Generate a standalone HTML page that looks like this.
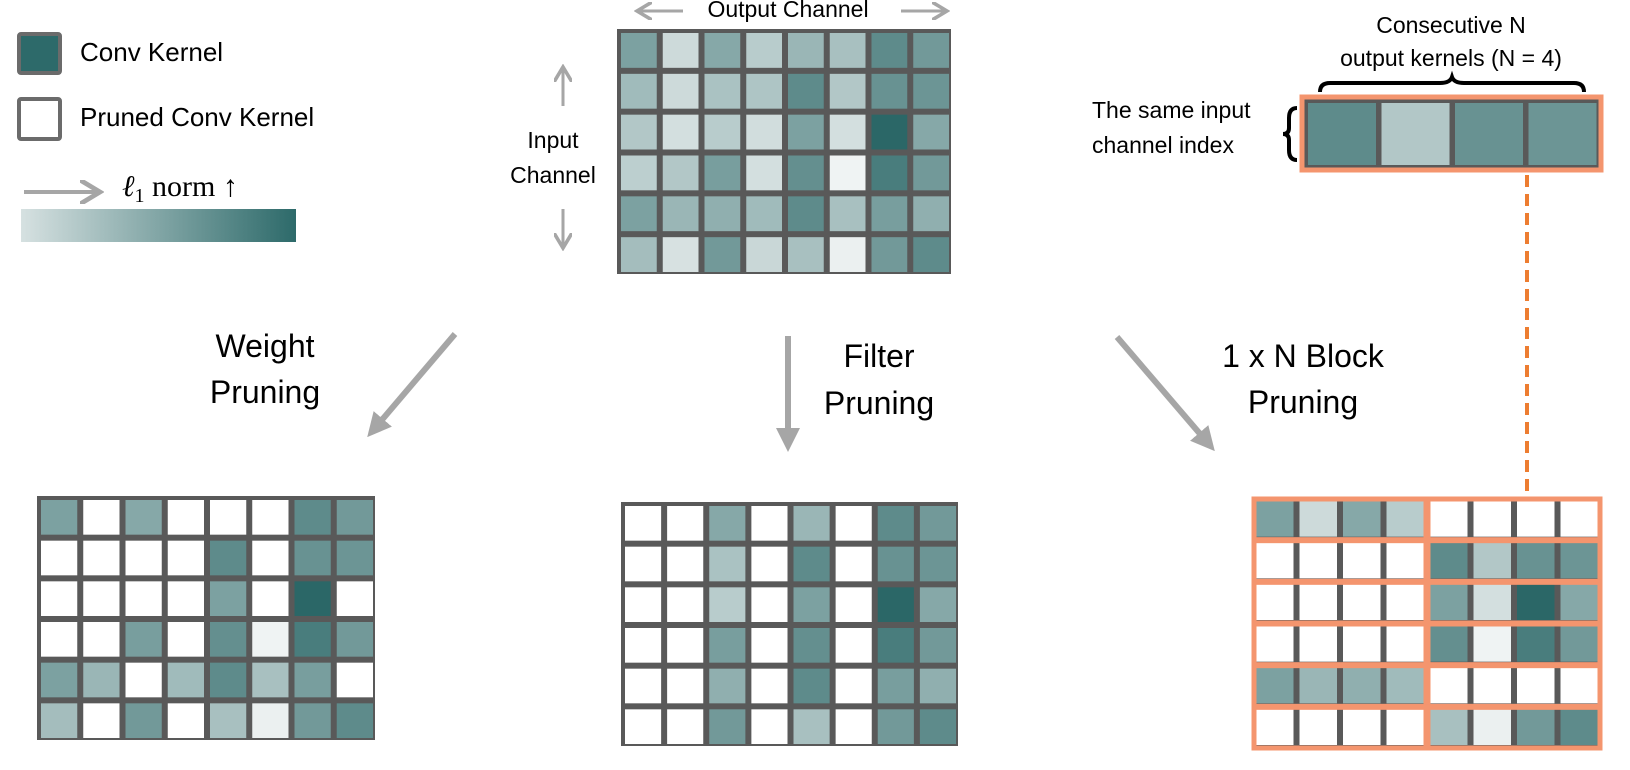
<!DOCTYPE html>
<html><head><meta charset="utf-8"><style>
html,body{margin:0;padding:0;background:#fff;}
svg{display:block;}
text{font-family:"Liberation Sans",sans-serif;fill:#000;}
</style></head><body>
<svg id="fig" width="1630" height="770" viewBox="0 0 1630 770" xmlns="http://www.w3.org/2000/svg">
<defs>
<linearGradient id="l1grad" x1="0" x2="1" y1="0" y2="0"><stop offset="0" stop-color="#d6e1e1"/><stop offset="1" stop-color="#2d6a6a"/></linearGradient>
<marker id="ah" markerWidth="4" markerHeight="4" refX="2" refY="2" orient="auto" markerUnits="strokeWidth"><path d="M0,0 L4,2 L0,4 Z" fill="#a6a6a6"/></marker>
<marker id="ahs" markerWidth="6" markerHeight="6" refX="4" refY="3" orient="auto" markerUnits="strokeWidth"><path d="M0,0 L5,3 L0,6" fill="none" stroke="#a6a6a6" stroke-width="1.2"/></marker>
</defs>

<!-- legend -->
<g>
<rect x="19" y="34" width="41" height="39" fill="#2d6a6a" stroke="#6b6b6b" stroke-width="4" rx="2"/>
<text x="80" y="61" font-size="26">Conv Kernel</text>
<rect x="19" y="99" width="41" height="40" fill="#fff" stroke="#6b6b6b" stroke-width="4" rx="2"/>
<text x="80" y="126" font-size="26">Pruned Conv Kernel</text>
<line x1="24" y1="192" x2="96" y2="192" stroke="#a6a6a6" stroke-width="4" marker-end="url(#ahs)"/>
<text x="122" y="196" font-size="30" style="font-family:'Liberation Serif',serif"><tspan font-style="italic">ℓ</tspan><tspan font-size="20" dy="6">1</tspan><tspan dy="-6"> norm ↑</tspan></text>
<rect x="21" y="209" width="275" height="33" fill="url(#l1grad)"/>
</g>

<!-- top labels -->
<text x="788" y="17" font-size="23" text-anchor="middle">Output Channel</text>
<line x1="683" y1="11" x2="640" y2="11" stroke="#a6a6a6" stroke-width="3" marker-end="url(#ahs)"/>
<line x1="901" y1="11" x2="944" y2="11" stroke="#a6a6a6" stroke-width="3" marker-end="url(#ahs)"/>
<text x="553" y="148" font-size="23" text-anchor="middle">Input</text>
<text x="553" y="183" font-size="23" text-anchor="middle">Channel</text>
<line x1="563" y1="106" x2="563" y2="70" stroke="#a6a6a6" stroke-width="3" marker-end="url(#ahs)"/>
<line x1="563" y1="209" x2="563" y2="245" stroke="#a6a6a6" stroke-width="3" marker-end="url(#ahs)"/>

<!-- method labels and arrows -->
<text x="265" y="357" font-size="32" text-anchor="middle">Weight</text>
<text x="265" y="403" font-size="32" text-anchor="middle">Pruning</text>
<line x1="455" y1="334" x2="375" y2="428" stroke="#a6a6a6" stroke-width="6" marker-end="url(#ah)"/>
<text x="879" y="367" font-size="32" text-anchor="middle">Filter</text>
<text x="879" y="414" font-size="32" text-anchor="middle">Pruning</text>
<line x1="788" y1="336" x2="788" y2="440" stroke="#a6a6a6" stroke-width="6" marker-end="url(#ah)"/>
<text x="1303" y="367" font-size="32" text-anchor="middle">1 x N Block</text>
<text x="1303" y="413" font-size="32" text-anchor="middle">Pruning</text>
<line x1="1117" y1="337" x2="1207" y2="442" stroke="#a6a6a6" stroke-width="6" marker-end="url(#ah)"/>

<!-- top right annotation -->
<text x="1451" y="33" font-size="23" text-anchor="middle">Consecutive N</text>
<text x="1451" y="66" font-size="23" text-anchor="middle">output kernels (N = 4)</text>
<path d="M1320,92 Q1320,83 1330,83 L1440,83 Q1450,83 1452,77 Q1454,83 1464,83 L1574,83 Q1584,83 1584,92" fill="none" stroke="#000" stroke-width="4"/>
<text x="1092" y="118" font-size="23">The same input</text>
<text x="1092" y="153" font-size="23">channel index</text>
<path d="M1297,108 Q1289,108 1289,118 L1289,128 Q1289,134 1283,134 Q1289,134 1289,140 L1289,150 Q1289,160 1297,160" fill="none" stroke="#000" stroke-width="4"/>
<line x1="1527" y1="175" x2="1527" y2="537" stroke="#ed7d31" stroke-width="4" stroke-dasharray="12,7"/>
<g id="grids"></g>
</svg>
<script>
// l1-norm intensity of each kernel (rows = input channel, cols = output channel), 0 = light, 1 = dark
const row0 = [0.6, 0.2, 0.55, 0.3, 0.45, 0.38, 0.75, 0.65];
const row1 = [0.42, 0.2, 0.37, 0.35, 0.75, 0.33, 0.7, 0.68];
const row2 = [0.33, 0.17, 0.3, 0.18, 0.6, 0.17, 1.0, 0.55];
const row3 = [0.28, 0.33, 0.62, 0.17, 0.72, 0.03, 0.85, 0.65];
const row4 = [0.6, 0.45, 0.5, 0.42, 0.75, 0.38, 0.62, 0.5];
const row5 = [0.4, 0.15, 0.65, 0.22, 0.38, 0.05, 0.65, 0.75];
const weightMask = ["10100011","00001011","00001010","00101111","11011110","10101111"];
const filterKeep = [2, 4, 6, 7];
const blockKeep = [0, 1, 1, 1, 0, 1]; // which 4-block per row is kept
const exampleRow = 1, exampleBlock = 1;

const vals = [row0, row1, row2, row3, row4, row5];
const NS = "http://www.w3.org/2000/svg";
const G = document.getElementById('grids');
function color(v){
  const a=[245,247,247], b=[43,103,103];
  return 'rgb('+a.map((c,i)=>Math.round(c+(b[i]-c)*v)).join(',')+')';
}
function mk(tag, attrs, parent){
  const e=document.createElementNS(NS,tag);
  for(const k in attrs) e.setAttribute(k,attrs[k]);
  (parent||G).appendChild(e); return e;
}
function grid(name, x0, y0, w, h, keep, orange){
  const g=mk('g',{});
  
  
  const cw=w/8, ch=h/6, bw=4;
  mk('rect',{x:x0,y:y0,width:w,height:h,fill:'#595959'},g);
  for(let r=0;r<6;r++) for(let c=0;c<8;c++){
    const k=keep(r,c);
    const cell=mk('rect',{x:x0+c*cw+bw,y:y0+r*ch+bw,width:cw-bw*1.5,height:ch-bw*1.5,fill:k?color(vals[r][c]):'#ffffff'},g);
    
    
  }
  if(orange){
    for(let r=0;r<6;r++) for(let b=0;b<2;b++){
      mk('rect',{x:x0+b*w/2+2,y:y0+r*ch+2,width:w/2-2,height:ch-1,fill:'none',stroke:'#f4956e','stroke-width':5},g);
    }
  }
}
grid('original-weight-grid', 617, 29, 334, 245, ()=>true, false);
grid('weight-pruning-grid', 37, 496, 338, 244, (r,c)=>weightMask[r][c]==='1', false);
grid('filter-pruning-grid', 621, 502, 337, 244, (r,c)=>filterKeep.indexOf(c)>=0, false);
grid('block-pruning-grid', 1252, 497, 348, 250, (r,c)=>Math.floor(c/4)===blockKeep[r], true);

// example 1xN block
const ex=mk('g',{});


mk('rect',{x:1302,y:97,width:299,height:73,fill:'#595959',stroke:'#f4956e','stroke-width':5},ex);
for(let i=0;i<4;i++){
  const c=exampleBlock*4+i;
  const cell=mk('rect',{x:1308+i*73.5,y:103,width:68,height:62,fill:color(vals[exampleRow][c])},ex);
  
  
}
</script>
</body></html>
